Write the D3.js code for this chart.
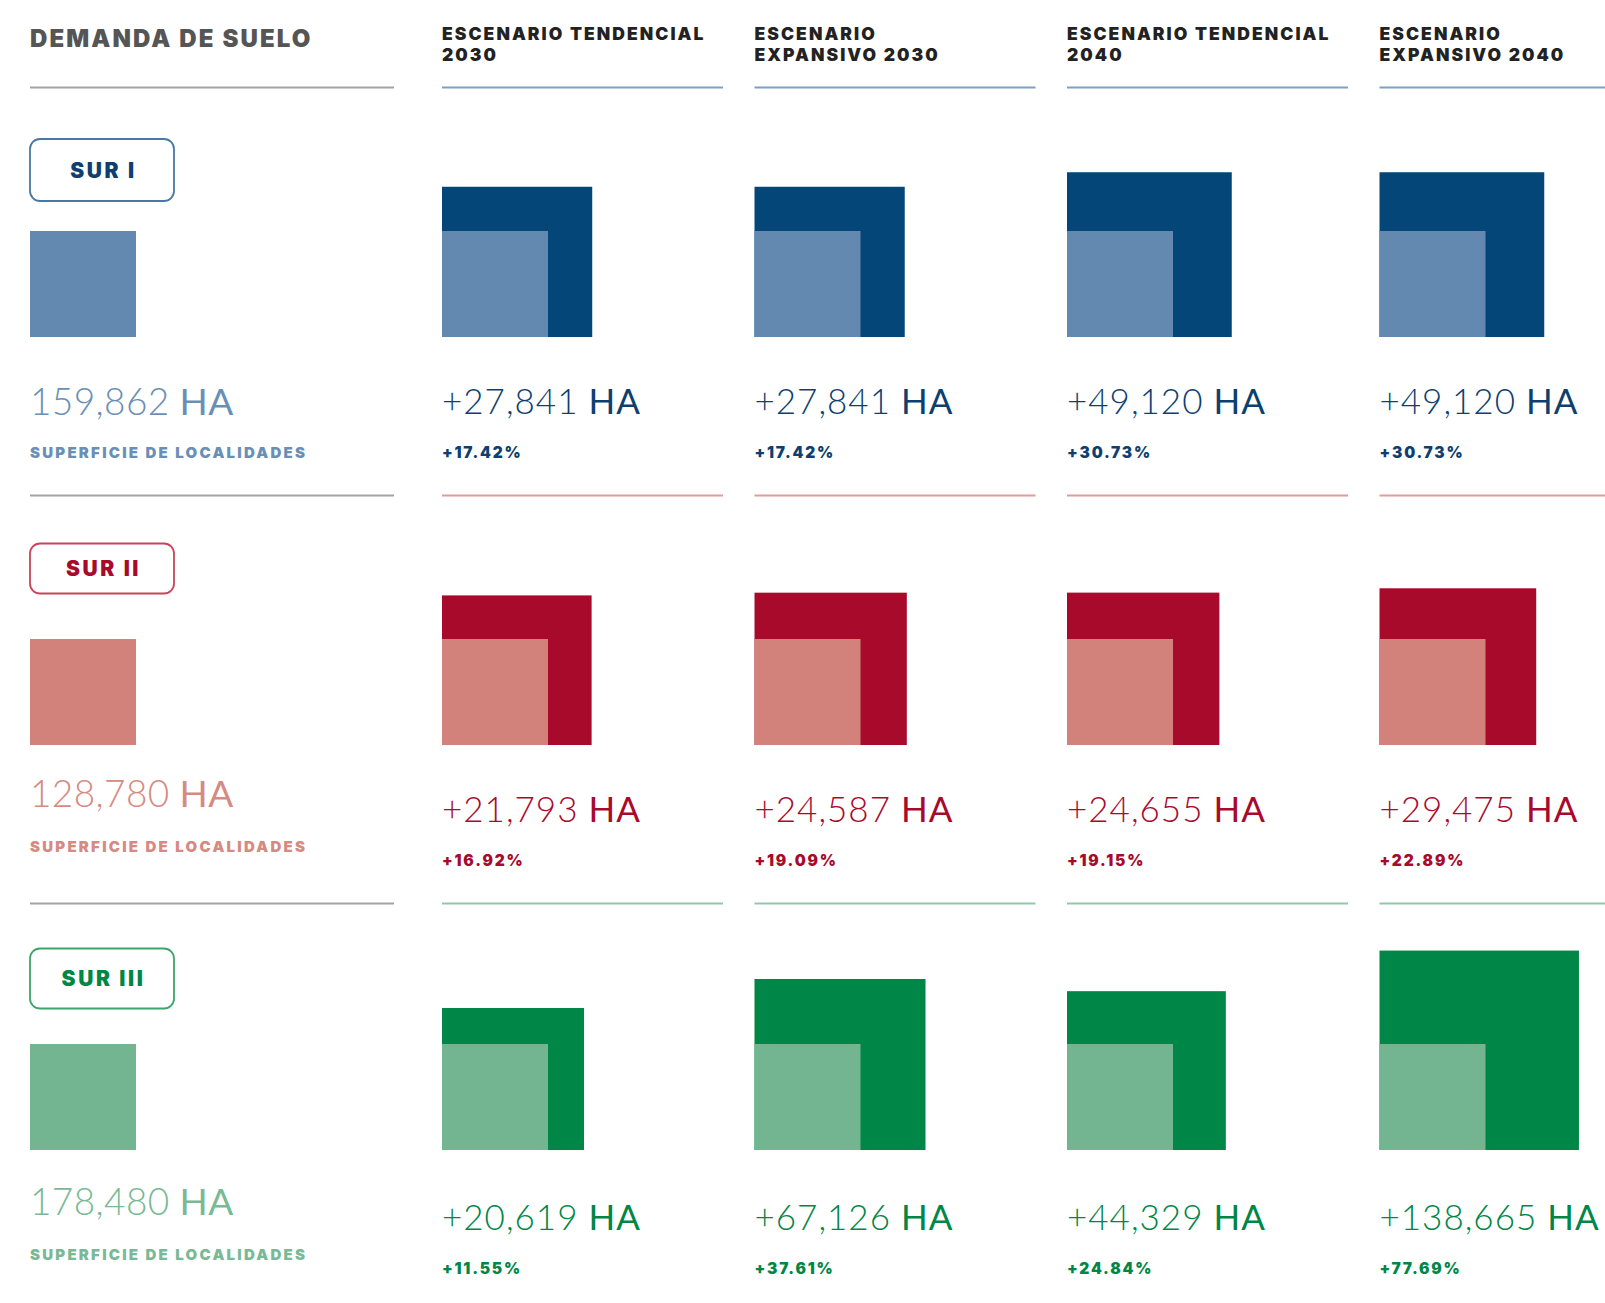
<!DOCTYPE html>
<html lang="es">
<head>
<meta charset="utf-8">
<title>Demanda de suelo</title>
<script src="https://cdn.jsdelivr.net/npm/d3@7/dist/d3.min.js"></script>
<style>
  html, body { margin: 0; padding: 0; background: #ffffff; }
  svg { display: block; }
  .bold { font-family: "Inter", "Lato", "DejaVu Sans", sans-serif; font-weight: 900; }
  .light { font-family: "Lato", "Open Sans", "DejaVu Sans", sans-serif; }
</style>
</head>
<body>
<svg id="chart"></svg>
<script>
// ---- data -------------------------------------------------------------
const regions = ["SUR I", "SUR II", "SUR III"];
const scenarios = ["Tendencial 2030", "Expansivo 2030", "Tendencial 2040", "Expansivo 2040"];
const scenarioHeaders = [
  ["ESCENARIO TENDENCIAL", "2030"],
  ["ESCENARIO", "EXPANSIVO 2030"],
  ["ESCENARIO TENDENCIAL", "2040"],
  ["ESCENARIO", "EXPANSIVO 2040"]
];
// current settlement surface per region (ha)
const baseArea = [159862, 128780, 178480];
// additional land demand per scenario (ha)
const demandSurI   = [27841, 27841, 49120, 49120];
const demandSurII  = [21793, 24587, 24655, 29475];
const demandSurIII = [20619, 67126, 44329, 138665];
const demand = [demandSurI, demandSurII, demandSurIII];

// ---- styling ------------------------------------------------------------
const palette = [
  { dark: "#034677", light: "#6489b0", text: "#0e3f6f", base: "#6a8fb6", rule: "#7c9fc3", badge: "#4b77a4" },
  { dark: "#a80a2c", light: "#d3827b", text: "#a80a2c", base: "#d58a82", rule: "#e49a9a", badge: "#c6455c" },
  { dark: "#008646", light: "#73b591", text: "#008646", base: "#79b995", rule: "#90c9aa", badge: "#3da46d" }
];
const W = 1605, H = 1303;
const BASE = 106;            // side of the reference (current surface) square
const LEFT = 30;
// vertical offsets inside each row, measured from the row's top rule
const badgeTop = [51.5, 48, 45];
const badgeH = [62, 50, 60];
const squareBottom = [249.5, 249.5, 246.5];
const baseLabelY = [327.5, 311, 311.5];
const baseCaptionY = [370.5, 356, 356];
const deltaLabelY = 326;
const pctLabelY = 370.5;

const svg = d3.select("#chart").attr("width", W).attr("height", H)
  .attr("viewBox", `0 0 ${W} ${H}`);

// columns for the scenarios
const x = d3.scaleBand()
  .domain(scenarios)
  .range([442, 442 + 4 * 312.5 - 31.5])
  .paddingInner(0.1008)
  .paddingOuter(0);

// rows for the regions (start = top rule of the row)
const y = d3.scaleBand()
  .domain(regions)
  .range([87.5, 87.5 + 3 * 408])
  .padding(0);

// extra side of a square grows with the square root of the relative increase
const extra = d3.scaleSqrt().domain([0, 1]).range([0, BASE]);

const fmt = d3.format(",");
const pct = d3.format(".2f");

// ---- headers ------------------------------------------------------------
svg.append("text")
  .attr("class", "bold")
  .attr("x", LEFT).attr("y", 46.5)
  .attr("font-size", 24)
  .attr("letter-spacing", 2.1)
  .attr("fill", "#555555")
  .text("DEMANDA DE SUELO");

const head = svg.selectAll("g.head").data(scenarios).join("g")
  .attr("class", "head")
  .attr("transform", d => `translate(${x(d)},0)`);
head.each(function (d, i) {
  const t = d3.select(this).append("text")
    .attr("class", "bold")
    .attr("font-size", 17.5)
    .attr("letter-spacing", 2.05)
    .attr("fill", "#222222");
  t.selectAll("tspan").data(scenarioHeaders[i]).join("tspan")
    .attr("x", 0)
    .attr("y", (l, j) => 40 + j * 20.7)
    .text(l => l);
});

// ---- rows ---------------------------------------------------------------
regions.forEach((region, r) => {
  const top = y(region);
  const col = palette[r];
  const g = svg.append("g").attr("class", "row");

  // top rules
  g.append("line")
    .attr("x1", LEFT).attr("x2", 394)
    .attr("y1", top).attr("y2", top)
    .attr("stroke", "#a3a3a3").attr("stroke-width", 2);
  g.selectAll("line.rule").data(scenarios).join("line")
    .attr("class", "rule")
    .attr("x1", d => x(d)).attr("x2", d => x(d) + x.bandwidth())
    .attr("y1", top).attr("y2", top)
    .attr("stroke", col.rule).attr("stroke-width", 2);

  // region badge
  g.append("rect")
    .attr("x", LEFT).attr("y", top + badgeTop[r])
    .attr("width", 144).attr("height", badgeH[r])
    .attr("rx", 10).attr("ry", 10)
    .attr("fill", "#ffffff")
    .attr("stroke", col.badge).attr("stroke-width", 1.8);
  g.append("text")
    .attr("class", "bold")
    .attr("x", LEFT + 73.5).attr("y", top + badgeTop[r] + badgeH[r] / 2)
    .attr("dy", "0.36em")
    .attr("text-anchor", "middle")
    .attr("font-size", 21)
    .attr("letter-spacing", 2.6)
    .attr("fill", col.text)
    .text(region);

  const bottom = top + squareBottom[r];

  // reference square: current surface
  g.append("rect")
    .attr("x", LEFT).attr("y", bottom - BASE)
    .attr("width", BASE).attr("height", BASE)
    .attr("fill", col.light);

  const bl = g.append("text")
    .attr("class", "light")
    .attr("x", LEFT).attr("y", top + baseLabelY[r])
    .attr("font-size", 37)
    .attr("letter-spacing", 0.4)
    .attr("fill", col.base);
  bl.append("tspan").attr("font-weight", 300).text(fmt(baseArea[r]));
  bl.append("tspan").attr("font-weight", 400).text(" HA");

  g.append("text")
    .attr("class", "bold")
    .attr("x", LEFT).attr("y", top + baseCaptionY[r])
    .attr("font-size", 15)
    .attr("letter-spacing", 2.25)
    .attr("fill", col.base)
    .text("SUPERFICIE DE LOCALIDADES");

  // scenario squares: outer = current + demand, inner = current
  const cells = g.selectAll("g.cell")
    .data(scenarios.map((s, i) => ({ s, v: demand[r][i], ratio: demand[r][i] / baseArea[r] })))
    .join("g")
    .attr("class", "cell")
    .attr("transform", d => `translate(${x(d.s)},0)`);

  cells.append("rect")
    .attr("x", 0)
    .attr("y", d => bottom - BASE - extra(d.ratio))
    .attr("width", d => BASE + extra(d.ratio))
    .attr("height", d => BASE + extra(d.ratio))
    .attr("fill", col.dark);
  cells.append("rect")
    .attr("x", 0).attr("y", bottom - BASE)
    .attr("width", BASE).attr("height", BASE)
    .attr("fill", col.light);

  const dl = cells.append("text")
    .attr("class", "light")
    .attr("x", 0).attr("y", top + deltaLabelY)
    .attr("font-size", 35)
    .attr("letter-spacing", 1)
    .attr("fill", col.text);
  dl.append("tspan").attr("font-weight", 300).text(d => "+" + fmt(d.v));
  dl.append("tspan").attr("font-weight", 400).text(" HA");

  cells.append("text")
    .attr("class", "bold")
    .attr("x", 0).attr("y", top + pctLabelY)
    .attr("font-size", 15.5)
    .attr("letter-spacing", 1.8)
    .attr("fill", col.text)
    .text(d => "+" + pct(d.ratio * 100) + "%");
});
</script>
</body>
</html>
